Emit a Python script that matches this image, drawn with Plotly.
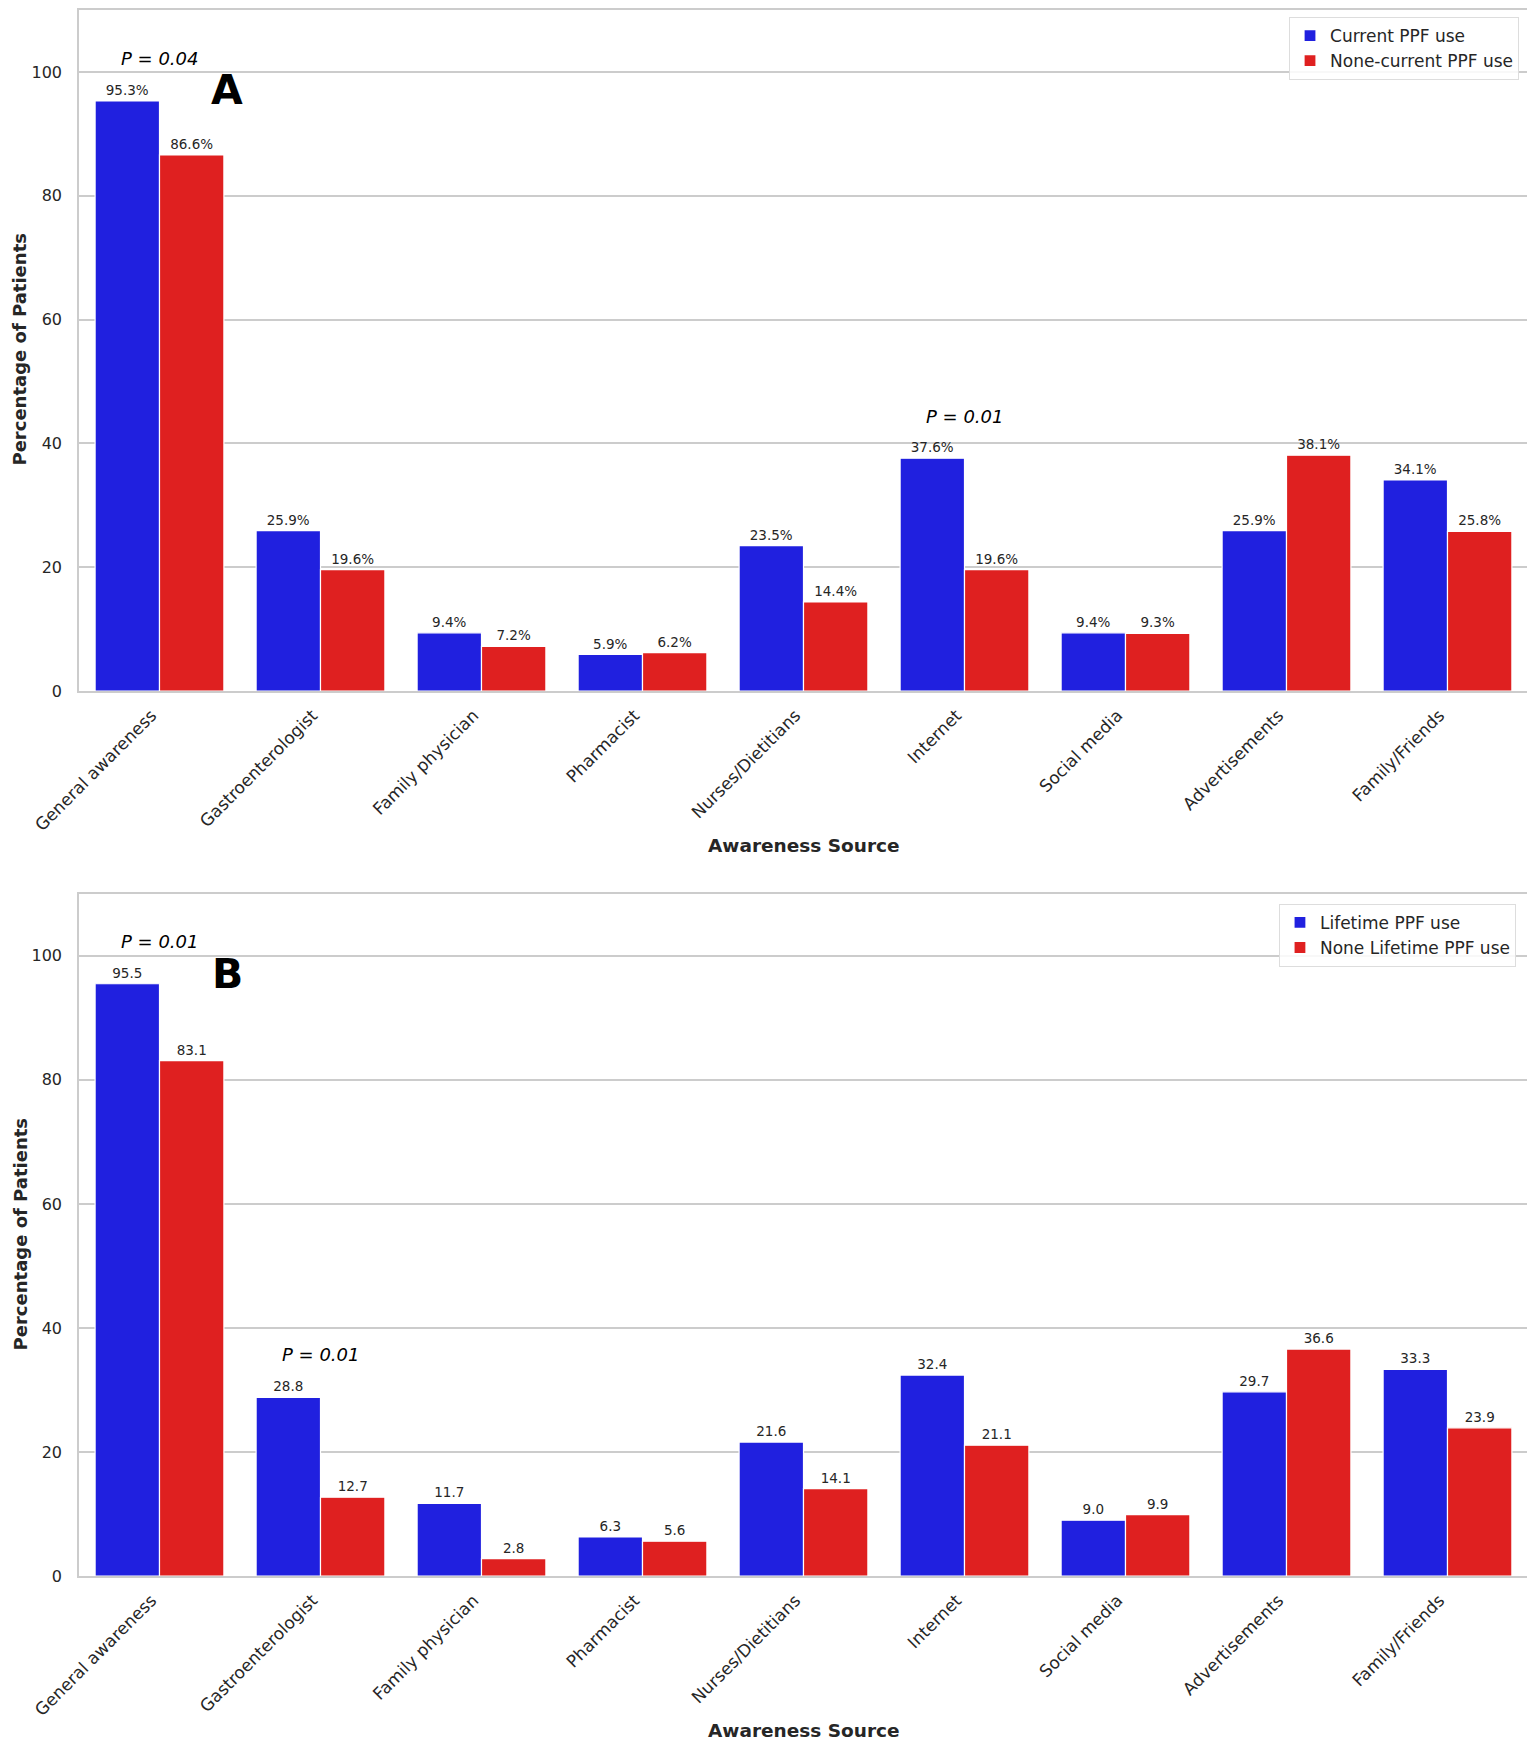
import plotly.graph_objects as go
from plotly.subplots import make_subplots

categories = ['General awareness', 'Gastroenterologist', 'Family physician', 'Pharmacist',
              'Nurses/Dietitians', 'Internet', 'Social media', 'Advertisements', 'Family/Friends']

current_use = [95.3, 25.9, 9.4, 5.9, 23.5, 37.6, 9.4, 25.9, 34.1]
non_current_use = [86.6, 19.6, 7.2, 6.2, 14.4, 19.6, 9.3, 38.1, 25.8]

lifetime_use = [95.5, 28.8, 11.7, 6.3, 21.6, 32.4, 9.0, 29.7, 33.3]
non_lifetime_use = [83.1, 12.7, 2.8, 5.6, 14.1, 21.1, 9.9, 36.6, 23.9]

# p-value notes: (category, y, text)
p_notes_a = [('General awareness', 102.2, 'P = 0.04'), ('Internet', 44.4, 'P = 0.01')]
p_notes_b = [('General awareness', 102.3, 'P = 0.01'), ('Gastroenterologist', 35.7, 'P = 0.01')]

BLUE = '#2020DF'
RED = '#DF2020'
GRID = '#cccccc'
TXT = '#262626'
FONT = 'DejaVu Sans'

fig = make_subplots(rows=2, cols=1)


def add_bar(name, values, color, row, legend, pct):
    labels = [f"{v:.1f}%" if pct else f"{v:.1f}" for v in values]
    fig.add_trace(go.Bar(
        x=categories, y=values, name=name, marker_color=color,
        marker_line_color='white', marker_line_width=1.2,
        text=labels, textposition='outside', cliponaxis=False, constraintext='none',
        textfont=dict(size=13.5, color=TXT, family=FONT),
        legend=legend,
    ), row=row, col=1)


add_bar('Current PPF use', current_use, BLUE, 1, 'legend', True)
add_bar('None-current PPF use', non_current_use, RED, 1, 'legend', True)
add_bar('Lifetime PPF use', lifetime_use, BLUE, 2, 'legend2', False)
add_bar('None Lifetime PPF use', non_lifetime_use, RED, 2, 'legend2', False)

axis_common = dict(showline=True, linecolor=GRID, linewidth=1.5, mirror=True)

fig.update_xaxes(showgrid=False, tickangle=-45, tickfont=dict(size=17, color=TXT, family=FONT),
                 ticks='', ticklabelstandoff=6, ticklabelshift=-8, **axis_common)
fig.update_yaxes(range=[0, 110], tickvals=[0, 20, 40, 60, 80, 100], showgrid=True,
                 gridcolor=GRID, gridwidth=1.5, zeroline=False, ticks='',
                 ticklabelstandoff=12,
                 tickfont=dict(size=16, color=TXT, family=FONT), **axis_common)

# page body adds 8px, so the figure is shifted by that amount
fig.update_layout(
    width=1527, height=1738,
    margin=dict(l=71, r=7, t=0, b=170),
    plot_bgcolor='white', paper_bgcolor='white',
    barmode='group', bargap=0.2, bargroupgap=0,
    font=dict(family=FONT, color=TXT),
    yaxis=dict(domain=[0.5651, 1.0]),
    yaxis2=dict(domain=[0.0, 0.4356]),
    xaxis=dict(domain=[0, 1]),
    xaxis2=dict(domain=[0, 1]),
    legend=dict(x=0.9938, y=0.9955, xanchor='right', yanchor='top',
                bgcolor='rgba(255,255,255,0.85)', bordercolor='#dddddd', borderwidth=1,
                font=dict(size=17, color=TXT, family=FONT)),
    legend2=dict(x=0.9917, y=0.4292, xanchor='right', yanchor='top',
                 bgcolor='rgba(255,255,255,0.85)', bordercolor='#dddddd', borderwidth=1,
                 font=dict(size=17, color=TXT, family=FONT)),
)

annotations = []
for cat, y, txt in p_notes_a:
    annotations.append(dict(x=cat, y=y, xref='x', yref='y', text=f'<i>{txt}</i>', showarrow=False,
                            font=dict(size=18, color='black', family=FONT)))
for cat, y, txt in p_notes_b:
    annotations.append(dict(x=cat, y=y, xref='x2', yref='y2', text=f'<i>{txt}</i>', showarrow=False,
                            font=dict(size=18, color='black', family=FONT)))

annotations.append(dict(x=0.42, y=97, xref='x', yref='y', text='<b>A</b>', showarrow=False,
                        font=dict(size=41, color='black', family=FONT)))
annotations.append(dict(x=0.42, y=97, xref='x2', yref='y2', text='<b>B</b>', showarrow=False,
                        font=dict(size=41, color='black', family=FONT)))

# axis titles
for yc in [(1568 - 837) / 1568, (1568 - 1723) / 1568]:
    annotations.append(dict(x=0.5, y=yc, xref='paper', yref='paper', text='<b>Awareness Source</b>',
                            xanchor='center', yanchor='middle',
                            showarrow=False, font=dict(size=18.5, color=TXT, family=FONT)))
for yc in [(1568 - 340) / 1568, (1568 - 1226) / 1568]:
    annotations.append(dict(x=(12 - 71) / 1449, y=yc, xref='paper', yref='paper',
                            text='<b>Percentage of Patients</b>', textangle=-90,
                            xanchor='center', yanchor='middle',
                            showarrow=False, font=dict(size=18, color=TXT, family=FONT)))

fig.update_layout(annotations=annotations)

fig.write_html("out.html")
